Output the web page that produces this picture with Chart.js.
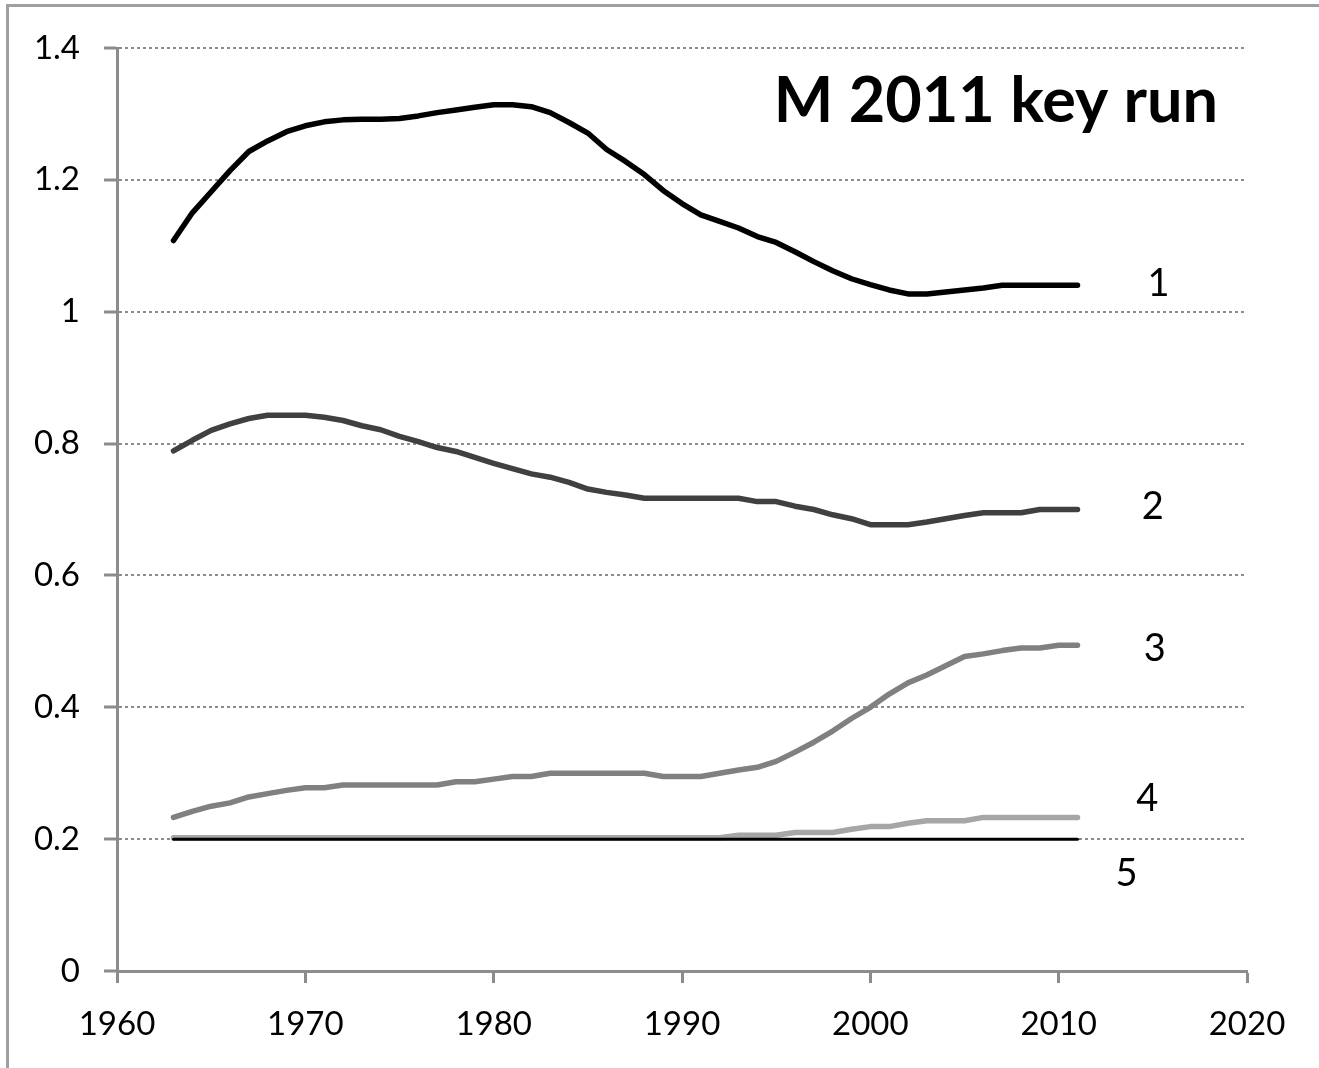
<!DOCTYPE html>
<html>
<head>
<meta charset="utf-8">
<script src="https://cdn.jsdelivr.net/npm/chart.js@4.4.1/dist/chart.umd.min.js"></script>
<style>
  html, body { margin: 0; padding: 0; background: #fff; }
  #wrap { position: relative; width: 1319px; height: 1068px; }
</style>
</head>
<body>
<div id="wrap"><canvas id="linechart" width="1319" height="1068"></canvas></div>
<script>
// chart values
var years = [1963, 1964, 1965, 1966, 1967, 1968, 1969, 1970, 1971, 1972,
  1973, 1974, 1975, 1976, 1977, 1978, 1979, 1980, 1981, 1982,
  1983, 1984, 1985, 1986, 1987, 1988, 1989, 1990, 1991, 1992,
  1993, 1994, 1995, 1996, 1997, 1998, 1999, 2000, 2001, 2002,
  2003, 2004, 2005, 2006, 2007, 2008, 2009, 2010, 2011];

var series1 = [1.108, 1.150, 1.182, 1.214, 1.243, 1.259, 1.273, 1.282, 1.288, 1.291,
  1.292, 1.292, 1.293, 1.297, 1.302, 1.306, 1.310, 1.314, 1.314, 1.311,
  1.302, 1.287, 1.271, 1.246, 1.228, 1.208, 1.184, 1.164, 1.147, 1.137,
  1.127, 1.114, 1.105, 1.091, 1.076, 1.062, 1.050, 1.041, 1.033, 1.027,
  1.027, 1.030, 1.033, 1.036, 1.040, 1.040, 1.040, 1.040, 1.040];

var series2 = [0.789, 0.805, 0.820, 0.830, 0.838, 0.843, 0.843, 0.843, 0.840, 0.835,
  0.827, 0.821, 0.811, 0.803, 0.794, 0.788, 0.779, 0.770, 0.762, 0.754,
  0.749, 0.741, 0.731, 0.726, 0.722, 0.717, 0.717, 0.717, 0.717, 0.717,
  0.717, 0.712, 0.712, 0.705, 0.700, 0.692, 0.686, 0.677, 0.677, 0.677,
  0.681, 0.686, 0.691, 0.695, 0.695, 0.695, 0.700, 0.700, 0.700];

var series3 = [0.233, 0.242, 0.250, 0.255, 0.264, 0.269, 0.274, 0.278, 0.278, 0.282,
  0.282, 0.282, 0.282, 0.282, 0.282, 0.287, 0.287, 0.291, 0.295, 0.295,
  0.300, 0.300, 0.300, 0.300, 0.300, 0.300, 0.295, 0.295, 0.295, 0.300,
  0.305, 0.309, 0.318, 0.332, 0.347, 0.364, 0.383, 0.400, 0.420, 0.437,
  0.449, 0.463, 0.477, 0.481, 0.486, 0.490, 0.490, 0.494, 0.494];

var series4 = [0.202, 0.202, 0.202, 0.202, 0.202, 0.202, 0.202, 0.202, 0.202, 0.202,
  0.202, 0.202, 0.202, 0.202, 0.202, 0.202, 0.202, 0.202, 0.202, 0.202,
  0.202, 0.202, 0.202, 0.202, 0.202, 0.202, 0.202, 0.202, 0.202, 0.202,
  0.206, 0.206, 0.206, 0.210, 0.210, 0.210, 0.215, 0.219, 0.219, 0.224,
  0.228, 0.228, 0.228, 0.233, 0.233, 0.233, 0.233, 0.233, 0.233];

var series5 = [0.2, 0.2, 0.2, 0.2, 0.2, 0.2, 0.2, 0.2, 0.2, 0.2,
  0.2, 0.2, 0.2, 0.2, 0.2, 0.2, 0.2, 0.2, 0.2, 0.2,
  0.2, 0.2, 0.2, 0.2, 0.2, 0.2, 0.2, 0.2, 0.2, 0.2,
  0.2, 0.2, 0.2, 0.2, 0.2, 0.2, 0.2, 0.2, 0.2, 0.2,
  0.2, 0.2, 0.2, 0.2, 0.2, 0.2, 0.2, 0.2, 0.2];

// line names, placed at (year, value) next to each line end
var lineNames = ["1", "2", "3", "4", "5"];
var nameYears = [2015.3, 2015.0, 2015.1, 2014.7, 2013.6];
var nameValues = [1.045, 0.707, 0.491, 0.264, 0.150];

var chartTitle = "M 2011 key run";

var axisGray = "#8c8c8c";
var fontFamily = "Lato, 'Open Sans', sans-serif";

function points(vals) {
  return vals.map(function (v, i) { return { x: years[i], y: v }; });
}

function lineSet(vals, color, width, order) {
  return {
    data: points(vals),
    borderColor: color,
    borderWidth: width,
    borderCapStyle: 'round',
    borderJoinStyle: 'round',
    pointRadius: 0,
    tension: 0,
    fill: false,
    order: order
  };
}

// chart area frame (left and top edge only, like the original)
var framePlugin = {
  id: 'frame',
  beforeDraw: function (chart) {
    var ctx = chart.ctx;
    ctx.save();
    ctx.fillStyle = "#fff";
    ctx.fillRect(0, 0, chart.width, chart.height);
    ctx.strokeStyle = "#a0a0a0";
    ctx.lineWidth = 3;
    ctx.beginPath();
    ctx.moveTo(7.5, chart.height);
    ctx.lineTo(7.5, 5.5);
    ctx.lineTo(chart.width, 5.5);
    ctx.stroke();
    ctx.restore();
  }
};

var textPlugin = {
  id: 'texts',
  afterDatasetsDraw: function (chart) {
    var ctx = chart.ctx;
    var xs = chart.scales.x, ys = chart.scales.y;
    ctx.save();
    ctx.fillStyle = "#000";
    ctx.textAlign = "center";
    ctx.textBaseline = "alphabetic";
    ctx.font = "38px " + fontFamily;
    for (var i = 0; i < lineNames.length; i++) {
      var px = xs.getPixelForValue(nameYears[i]);
      var py = ys.getPixelForValue(nameValues[i]);
      ctx.fillText(lineNames[i], px, py + 38 * 0.36);
    }
    ctx.textAlign = "right";
    ctx.font = "bold 63px " + fontFamily;
    ctx.fillText(chartTitle, 1218, 122);
    ctx.restore();
  }
};

var chart = new Chart(document.getElementById("linechart"), {
  type: 'line',
  data: {
    datasets: [
      lineSet(series1, "#000000", 5.5, 1),
      lineSet(series2, "#404040", 5.5, 2),
      lineSet(series3, "#808080", 5.5, 3),
      lineSet(series4, "#a6a6a6", 5.5, 4),
      lineSet(series5, "#000000", 3, 0)
    ]
  },
  options: {
    responsive: false,
    animation: false,
    layout: { padding: { top: 48, right: 72, left: 0, bottom: 0 } },
    plugins: {
      legend: { display: false },
      tooltip: { enabled: false },
      title: { display: false }
    },
    scales: {
      x: {
        type: 'linear',
        min: 1960,
        max: 2020,
        ticks: {
          stepSize: 10,
          color: "#000",
          font: { family: fontFamily, size: 33 },
          padding: 22,
          maxRotation: 0,
          callback: function (v) { return String(v); }
        },
        grid: {
          drawOnChartArea: false,
          drawTicks: true,
          tickLength: 12,
          tickColor: axisGray,
          tickWidth: 3
        },
        border: { display: true, color: axisGray, width: 3 },
        afterFit: function (scale) { scale.height = 97; }
      },
      y: {
        min: 0,
        max: 1.4,
        ticks: {
          stepSize: 0.2,
          color: "#000",
          font: { family: fontFamily, size: 33 },
          padding: 24,
          callback: function (v) { return String(Math.round(v * 10) / 10); }
        },
        grid: {
          color: axisGray,
          lineWidth: 2,
          drawTicks: true,
          tickLength: 13,
          tickColor: axisGray,
          tickWidth: 3,
          tickBorderDash: []
        },
        border: { display: true, color: axisGray, width: 3, dash: [3, 3] },
        afterFit: function (scale) { scale.width = 117; }
      }
    }
  },
  plugins: [framePlugin, textPlugin]
});
</script>
</body>
</html>
